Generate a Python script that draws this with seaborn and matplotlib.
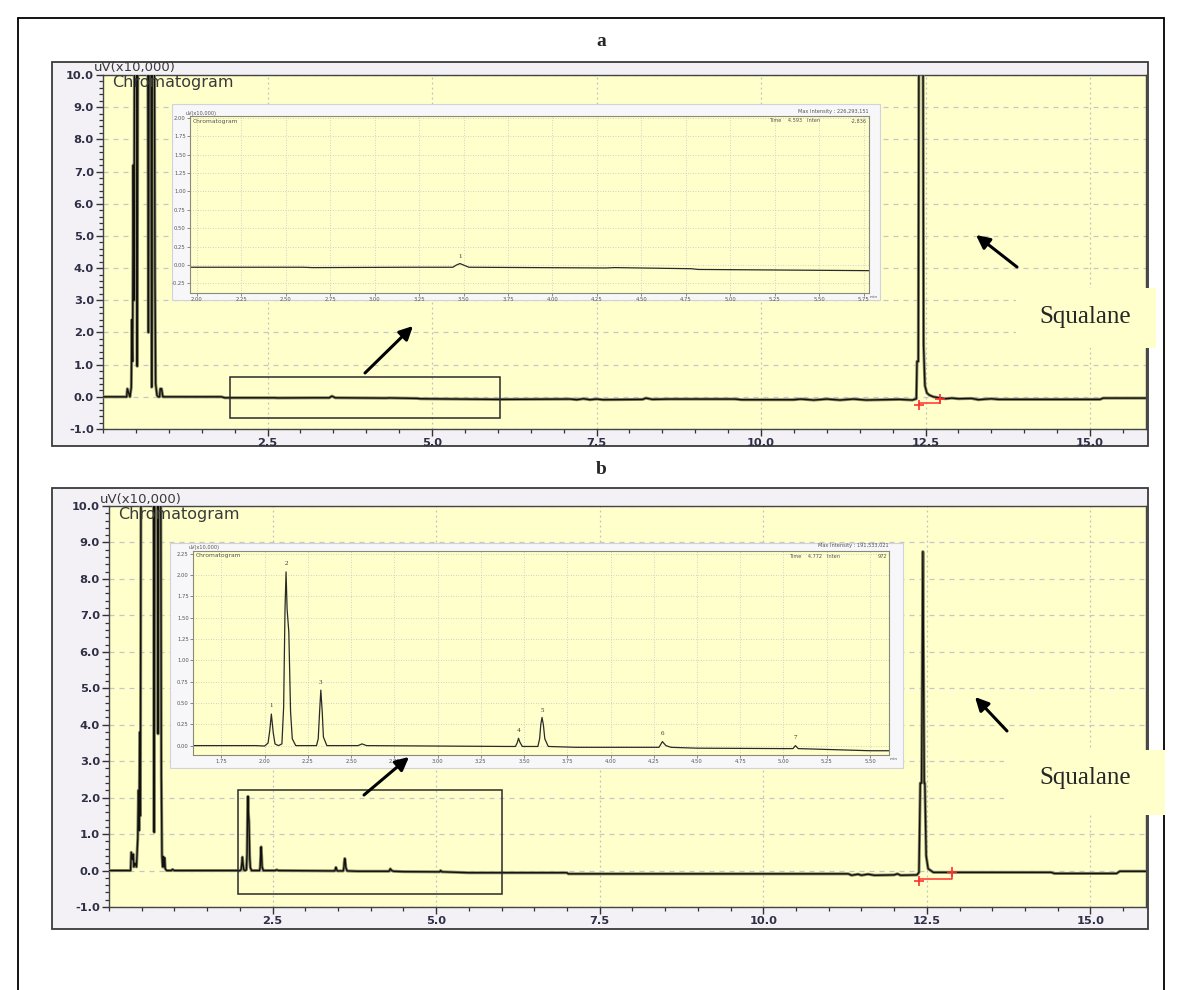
import matplotlib
matplotlib.use("Agg")
import matplotlib.pyplot as plt
import seaborn as sns
from matplotlib.patches import Rectangle, FancyArrowPatch
from matplotlib.lines import Line2D
from matplotlib.ticker import MultipleLocator

# ---------------- data (retention time in min, signal in uV x10,000) ----------------
time_a = [0.00, 0.36, 0.37, 0.39, 0.41, 0.43, 0.44, 0.45, 0.46, 0.47,
          0.48, 0.51, 0.52, 0.53, 0.68, 0.69, 0.70, 0.73, 0.74, 0.75,
          0.78, 0.79, 0.80, 0.82, 0.84, 0.86, 0.87, 0.89, 0.91, 0.92,
          1.80, 1.85, 2.60, 2.65, 3.20, 3.44, 3.46, 3.48, 3.50, 3.53,
          4.30, 4.35, 4.78, 4.82, 6.00, 7.10, 7.20, 7.30, 7.40, 7.50,
          7.60, 8.20, 8.25, 8.35, 8.60, 9.60, 9.70, 10.50, 10.60, 10.80,
          11.00, 11.20, 11.40, 11.60, 12.10, 12.30, 12.36, 12.37, 12.39, 12.40,
          12.46, 12.47, 12.49, 12.52, 12.56, 12.62, 12.70, 12.80, 12.90, 13.00,
          13.20, 13.30, 13.50, 13.60, 15.15, 15.20, 15.85]
signal_a = [0.00, 0.00, 0.25, 0.12, 0.00, 0.30, 2.40, 1.10, 7.20, 3.00,
            12.0, 12.0, 0.95, 12.0, 12.0, 2.00, 12.0, 12.0, 0.30, 12.0,
            12.0, 3.70, 0.40, 0.05, 0.00, 0.00, 0.25, 0.25, 0.00, 0.00,
            0.00, -0.03, -0.03, -0.035, -0.03, -0.03, 0.00, 0.02, 0.00, -0.03,
            -0.04, -0.035, -0.05, -0.06, -0.08, -0.07, -0.09, -0.06, -0.09, -0.07,
            -0.09, -0.08, -0.04, -0.08, -0.07, -0.07, -0.09, -0.09, -0.07, -0.10,
            -0.07, -0.10, -0.07, -0.10, -0.08, -0.10, -0.06, 1.10, 1.10, 12.0,
            12.0, 1.60, 0.35, 0.12, 0.05, 0.00, -0.03, -0.06, -0.04, -0.06,
            -0.05, -0.09, -0.06, -0.08, -0.08, -0.04, -0.04]

time_b = [0.00, 0.33, 0.34, 0.36, 0.37, 0.38, 0.40, 0.42, 0.44, 0.45,
          0.46, 0.47, 0.48, 0.49, 0.68, 0.69, 0.70, 0.74, 0.75, 0.76,
          0.79, 0.80, 0.81, 0.82, 0.83, 0.84, 0.85, 0.86, 0.88, 0.95,
          0.97, 1.00, 1.95, 2.00, 2.02, 2.03, 2.039, 2.05, 2.06, 2.08,
          2.10, 2.11, 2.118, 2.124, 2.13, 2.14, 2.15, 2.16, 2.18, 2.30,
          2.31, 2.318, 2.325, 2.333, 2.34, 2.36, 2.54, 2.563, 2.59, 3.40,
          3.45, 3.46, 3.468, 3.476, 3.49, 3.58, 3.59, 3.597, 3.604, 3.612,
          3.62, 3.64, 3.80, 4.00, 4.28, 4.30, 4.32, 4.35, 4.50, 5.00,
          5.055, 5.069, 5.085, 5.50, 6.00, 7.00, 7.02, 11.30, 11.35, 11.45,
          11.50, 11.60, 11.70, 12.00, 12.05, 12.10, 12.35, 12.38, 12.40, 12.42,
          12.44, 12.46, 12.47, 12.49, 12.52, 12.60, 14.40, 14.45, 15.40, 15.45,
          15.85]
signal_b = [0.00, 0.00, 0.50, 0.30, 0.45, 0.10, 0.20, 0.10, 0.90, 2.20,
            1.10, 3.80, 1.50, 12.0, 12.0, 1.05, 12.0, 12.0, 3.75, 12.0,
            12.0, 2.60, 0.40, 0.10, 0.38, 0.10, 0.35, 0.05, 0.00, 0.00,
            0.03, 0.00, 0.00, -0.005, 0.03, 0.18, 0.37, 0.15, 0.02, 0.00,
            0.02, 0.45, 1.60, 2.035, 1.60, 1.33, 0.40, 0.08, 0.00, 0.00,
            0.08, 0.40, 0.65, 0.40, 0.10, 0.00, 0.00, 0.02, 0.00, -0.01,
            -0.01, 0.03, 0.086, 0.04, -0.01, -0.01, 0.08, 0.25, 0.33, 0.24,
            0.08, -0.01, -0.02, -0.02, -0.02, 0.047, 0.00, -0.02, -0.03, -0.035,
            -0.035, 0.00, -0.035, -0.06, -0.06, -0.06, -0.09, -0.09, -0.13, -0.10,
            -0.13, -0.10, -0.13, -0.12, -0.09, -0.13, -0.12, -0.05, 2.40, 2.40,
            8.75, 2.40, 2.40, 0.40, 0.05, -0.05, -0.05, -0.08, -0.08, -0.02,
            -0.02]

main_xticks = [2.5, 5.0, 7.5, 10.0, 12.5, 15.0]
main_yticks = [-1, 0, 1, 2, 3, 4, 5, 6, 7, 8, 9, 10]

inset_a_xticks = [2.00, 2.25, 2.50, 2.75, 3.00, 3.25, 3.50, 3.75, 4.00, 4.25, 4.50, 4.75, 5.00, 5.25, 5.50, 5.75]
inset_a_yticks = [-0.25, 0.00, 0.25, 0.50, 0.75, 1.00, 1.25, 1.50, 1.75, 2.00]
inset_b_xticks = [1.75, 2.00, 2.25, 2.50, 2.75, 3.00, 3.25, 3.50, 3.75, 4.00, 4.25, 4.50, 4.75, 5.00, 5.25, 5.50]
inset_b_yticks = [0.00, 0.25, 0.50, 0.75, 1.00, 1.25, 1.50, 1.75, 2.00, 2.25]

peak_labels_a = ["1"]
peak_time_a = [3.48]
peak_label_y_a = [0.11]
peak_labels_b = ["1", "2", "3", "4", "5", "6", "7"]
peak_time_b = [2.039, 2.124, 2.325, 3.468, 3.604, 4.30, 5.069]
peak_label_y_b = [0.475, 2.13, 0.74, 0.175, 0.41, 0.145, 0.094]

# ---------------- style ----------------
sns.set_style("ticks")
plt.rcParams['font.family'] = ['DejaVu Sans']

W, H = 1182, 990
fig = plt.figure(figsize=(W / 100, H / 100), dpi=100)

YELLOW = '#ffffcc'
PANEL = '#f3f1f6'
TICKC = '#2f2f45'


def fx(x):
    return x / W


def fy(y):
    return 1 - y / H


def box(x0, y0, x1, y1):
    return [x0 / W, 1 - y1 / H, (x1 - x0) / W, (y1 - y0) / H]


def rect_px(x0, y0, x1, y1, **kw):
    r = Rectangle((fx(x0), fy(y1)), (x1 - x0) / W, (y1 - y0) / H,
                  transform=fig.transFigure, **kw)
    fig.add_artist(r)
    return r


def arrow_px(x0, y0, x1, y1):
    a = FancyArrowPatch((fx(x0), fy(y0)), (fx(x1), fy(y1)), transform=fig.transFigure,
                        arrowstyle='-|>', mutation_scale=20, lw=2.2, color='black',
                        shrinkA=0, shrinkB=0, zorder=6)
    fig.add_artist(a)


# outer frame
for xs, ys in [((18, 18), (18, 990)), ((18, 1164), (18, 18)), ((1164, 1164), (18, 990))]:
    fig.add_artist(Line2D([fx(xs[0]), fx(xs[1])], [fy(ys[0]), fy(ys[1])],
                          transform=fig.transFigure, color='black', lw=1.3))


def draw_main(frame, axpx, t, s, title, title_y, rect_data, red_x, red_y):
    rect_px(*frame, facecolor=PANEL, edgecolor='#3a3a3a', lw=1.3, zorder=-5)
    ax = fig.add_axes(box(*axpx))
    ax.set_facecolor(YELLOW)
    sns.lineplot(x=t, y=s, ax=ax, estimator=None, sort=False, color='#8a8a66', lw=2.2, zorder=3)
    sns.lineplot(x=t, y=s, ax=ax, estimator=None, sort=False, color='#111111', lw=1.0, zorder=4)
    ax.plot(red_x, red_y, color='#ff3030', lw=1.1, zorder=5)
    ax.plot([red_x[0], red_x[-1]], [red_y[0], red_y[-1]], ls='none', marker='+',
            ms=7, mew=1.2, color='#ff3030', zorder=5)
    ax.set_xlim(0, 15.85)
    ax.set_ylim(-1.0, 10.0)
    ax.set_xticks(main_xticks)
    ax.set_xticklabels([f"{v:.1f}" for v in main_xticks])
    ax.set_yticks(main_yticks)
    ax.set_yticklabels([f"{v:.1f}" for v in main_yticks])
    ax.xaxis.set_minor_locator(MultipleLocator(0.5))
    ax.yaxis.set_minor_locator(MultipleLocator(0.2))
    ax.tick_params(which='major', length=5, width=1, color='#333333', labelsize=8.2,
                   labelcolor=TICKC, pad=1.5)
    ax.tick_params(which='minor', length=2.6, width=0.9, color='#333333')
    for lbl in ax.get_xticklabels() + ax.get_yticklabels():
        lbl.set_fontweight('bold')
    ax.grid(axis='y', which='major', ls=(0, (4, 4)), color='#c6c6c6', lw=0.9)
    ax.grid(axis='x', which='major', ls=(0, (1.5, 2.5)), color='#c0c0c0', lw=0.9)
    for sp in ax.spines.values():
        sp.set_color('#444444')
        sp.set_linewidth(1.0)
    ax.set_xlabel('')
    ax.set_ylabel('')
    x0, y0, w, h = rect_data
    ax.add_patch(Rectangle((x0, y0), w, h, fill=False, edgecolor='#2a2a2a', lw=1.1, zorder=6))
    fig.text(fx(601), fy(title_y), title, fontfamily='Liberation Serif', fontweight='bold',
             fontsize=14, ha='center', va='center')
    fig.text(fx(axpx[0] - 9), fy(axpx[1] - 7), 'uV(x10,000)', fontsize=9.5, color='#3a3a3a',
             ha='left', va='center')
    fig.text(fx(axpx[0] + 9), fy(axpx[1] + 8), 'Chromatogram', fontsize=11.5, color='#3a3a3a',
             ha='left', va='center')
    return ax


def draw_inset(frame, axpx, t, s, xlim, ylim, xticks, yticks, plab, pt, py,
               maxtxt, timetxt, intentxt):
    rect_px(*frame, facecolor='#f7f7f9', edgecolor='#d2d2da', lw=0.8, zorder=1)
    iax = fig.add_axes(box(*axpx))
    iax.set_zorder(2)
    iax.set_facecolor(YELLOW)
    sns.lineplot(x=t, y=s, ax=iax, estimator=None, sort=False, color='#2a2a2a', lw=0.9)
    iax.set_xlim(*xlim)
    iax.set_ylim(*ylim)
    iax.set_xticks(xticks)
    iax.set_xticklabels([f"{v:.2f}" for v in xticks])
    iax.set_yticks(yticks)
    iax.set_yticklabels([f"{v:.2f}" for v in yticks])
    iax.tick_params(length=2, width=0.6, color='#777777', labelsize=3.8,
                    labelcolor='#555555', pad=1)
    iax.grid(True, ls=(0, (1, 2)), color='#c4c4c4', lw=0.6)
    for sp in iax.spines.values():
        sp.set_color('#8a8a78')
        sp.set_linewidth(0.8)
    iax.set_xlabel('')
    iax.set_ylabel('')
    for lab, xx, yy in zip(plab, pt, py):
        iax.text(xx, yy, lab, fontsize=5, color='#333333', ha='center', va='center',
                 fontfamily='Liberation Serif')
    fs = 3.6
    fig.text(fx(axpx[2] + 1), fy(axpx[3] + 4), 'min', fontsize=3.2, color='#555555',
             ha='left', va='center')
    fig.text(fx(axpx[0] - 4), fy(axpx[1] - 3), 'uV(x10,000)', fontsize=fs, color='#555555',
             ha='left', va='center')
    fig.text(fx(axpx[0] + 3), fy(axpx[1] + 5), 'Chromatogram', fontsize=4.3, color='#555555',
             ha='left', va='center')
    fig.text(fx(axpx[2]), fy(axpx[1] - 5), maxtxt, fontsize=fs, color='#555555',
             ha='right', va='center')
    fig.text(fx(axpx[2] - 100), fy(axpx[1] + 5), timetxt, fontsize=fs, color='#555555',
             ha='left', va='center')
    fig.text(fx(axpx[2] - 2), fy(axpx[1] + 5), intentxt, fontsize=fs, color='#555555',
             ha='right', va='center')
    return iax


# ---------------- panel a ----------------
draw_main((52, 62, 1148, 446), (103, 75, 1146, 429), time_a, signal_a, 'a', 42,
          (1.93, -0.66, 4.10, 1.29),
          [12.40, 12.40, 12.72, 12.72], [-0.24, -0.20, -0.20, -0.07])
draw_inset((172, 104, 880, 300), (190, 116, 869, 293), time_a, signal_a,
           (1.962, 5.78), (-0.38, 2.025), inset_a_xticks, inset_a_yticks,
           peak_labels_a, peak_time_a, peak_label_y_a,
           'Max Intensity : 226,293,151', 'Time    4.593   Inten', '-2,836')
rect_px(1016, 288, 1156, 348, facecolor='#ffffcc', edgecolor='none', zorder=3)
fig.text(fx(1085), fy(317), 'Squalane', fontfamily='Liberation Serif', fontsize=18,
         ha='center', va='center', zorder=7)
arrow_px(365, 373, 413, 326)
arrow_px(1017, 267, 976, 235)

# ---------------- panel b ----------------
draw_main((52, 488, 1148, 929), (109, 506, 1146, 907), time_b, signal_b, 'b', 470,
          (1.97, -0.63, 4.03, 2.84),
          [12.38, 12.38, 12.89, 12.89], [-0.30, -0.22, -0.22, -0.05])
draw_inset((170, 543, 903, 768), (193, 551, 889, 755), time_b, signal_b,
           (1.586, 5.61), (-0.11, 2.28), inset_b_xticks, inset_b_yticks,
           peak_labels_b, peak_time_b, peak_label_y_b,
           'Max Intensity : 191,533,021', 'Time    4.772   Inten', '972')
rect_px(1004, 750, 1165, 815, facecolor='#ffffcc', edgecolor='none', zorder=3)
fig.text(fx(1085), fy(778), 'Squalane', fontfamily='Liberation Serif', fontsize=18,
         ha='center', va='center', zorder=7)
arrow_px(364, 795, 409, 757)
arrow_px(1007, 731, 975, 697)

fig.savefig('out.png', dpi=100)
